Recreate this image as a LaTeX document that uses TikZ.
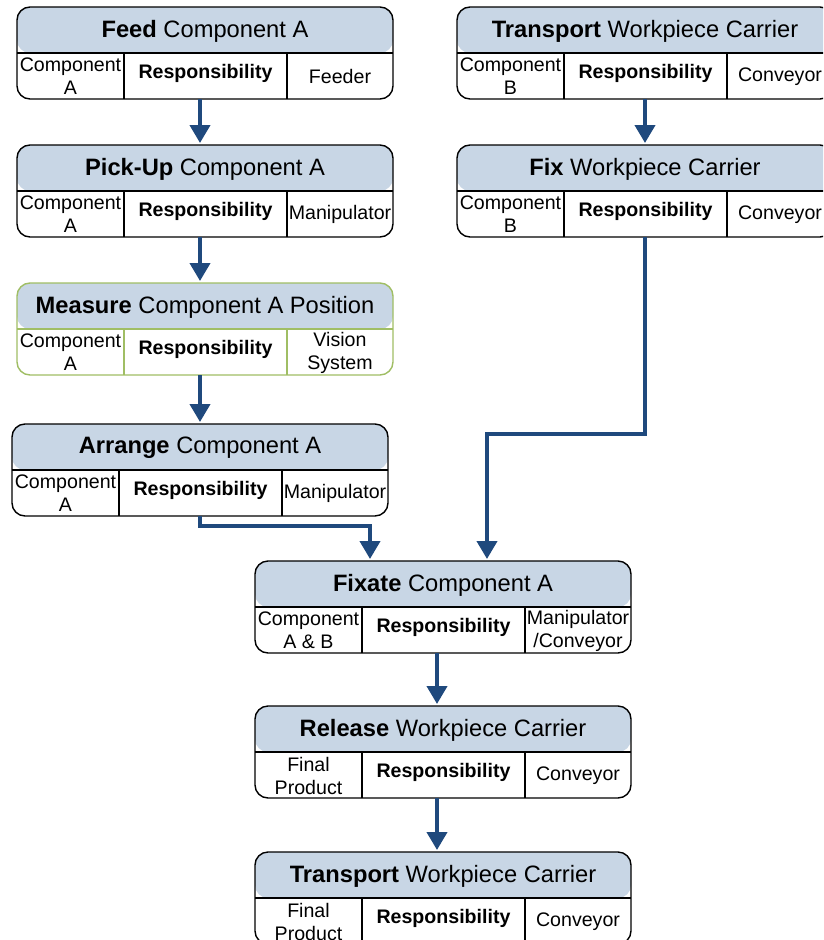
\documentclass[tikz,border=0pt]{standalone}
\usepackage{fontspec}
\setmainfont{Liberation Sans}
\usetikzlibrary{arrows.meta}
\definecolor{hdr}{RGB}{200,214,229}
\definecolor{arrblue}{RGB}{31,73,125}
\definecolor{grn}{RGB}{160,190,100}
\tikzset{
 boxframe/.style={draw=#1, line width=1.4pt, rounded corners=13pt, minimum width=376pt, minimum height=92pt, anchor=north west, inner sep=0pt, outer sep=0pt},
 titletext/.style={font=\fontsize{23.7}{26}\selectfont, anchor=center, inner sep=0pt},
 celltext/.style={font=\fontsize{19.6}{23}\selectfont, align=center, anchor=center, inner sep=0pt},
 arr/.style={draw=arrblue, line width=4pt, shorten >=2pt, -{Triangle[length=18pt,width=20pt]}},
}
\newcommand{\pbox}[6][black]{%
 \node[boxframe=#1, path picture={\fill[hdr] (path picture bounding box.north west) rectangle ([yshift=-46pt]path picture bounding box.north east);}] (#2) at (#3) {};
 \draw[draw=#1, line width=1.2pt] ([yshift=-46pt]#2.north west) -- ([yshift=-46pt]#2.north east);
 \draw[draw=#1, line width=1.2pt] ([shift={(107pt,-46pt)}]#2.north west) -- ([xshift=107pt]#2.south west);
 \draw[draw=#1, line width=1.2pt] ([shift={(270pt,-46pt)}]#2.north west) -- ([xshift=270pt]#2.south west);
 \node[titletext] (#2-t) at ([yshift=-24pt]#2.north) {#4};
 \node[celltext] (#2-l) at ([shift={(53.5pt,-69.5pt)}]#2.north west) {#5};
 \node[celltext] (#2-c) at ([shift={(188.5pt,-66pt)}]#2.north west) {\textbf{Responsibility}};
 \node[celltext] (#2-r) at ([shift={(323pt,-69.5pt)}]#2.north west) {#6};
}
\begin{document}
\begin{tikzpicture}[x=1pt,y=-1pt]
\clip (0,0) rectangle (823,940);
\fill[white] (0,0) rectangle (823,940);
\pbox{feed}{17,7}{\textbf{Feed} Component A}{Component\\A}{Feeder}
\pbox{pick}{17,145}{\textbf{Pick-Up} Component A}{Component\\A}{Manipulator}
\pbox[grn]{meas}{17,283}{\textbf{Measure} Component A Position}{Component\\A}{Vision\\System}
\pbox{arrange}{12,424}{\textbf{Arrange} Component A}{Component\\A}{Manipulator}
\pbox{transb}{457,7}{\textbf{Transport} Workpiece Carrier}{Component\\B}{Conveyor}
\pbox{fix}{457,145}{\textbf{Fix} Workpiece Carrier}{Component\\B}{Conveyor}
\pbox{fixate}{255,561}{\textbf{Fixate} Component A}{Component\\A \& B}{Manipulator\\/Conveyor}
\pbox{release}{255,706}{\textbf{Release} Workpiece Carrier}{Final\\Product}{Conveyor}
\pbox{transp}{255,852}{\textbf{Transport} Workpiece Carrier}{Final\\Product}{Conveyor}
% connectors
\draw[arr] ([xshift=-5pt]feed.south) -- ([xshift=-5pt]pick.north);
\draw[arr] ([xshift=-5pt]pick.south) -- ([xshift=-5pt]meas.north);
\draw[arr] (meas.south -| arrange.north) -- (arrange.north);
\draw[arr] (arrange.south) -- ++(0,10) -| ([xshift=-73pt]fixate.north);
\draw[arr] (transb.south) -- (fix.north);
\draw[arr] (fix.south) -- ++(0,197) -| ([xshift=44pt]fixate.north);
\draw[arr] ([xshift=-6pt]fixate.south) -- ([xshift=-6pt]release.north);
\draw[arr] ([xshift=-6pt]release.south) -- ([xshift=-6pt]transp.north);
\end{tikzpicture}
\end{document}
